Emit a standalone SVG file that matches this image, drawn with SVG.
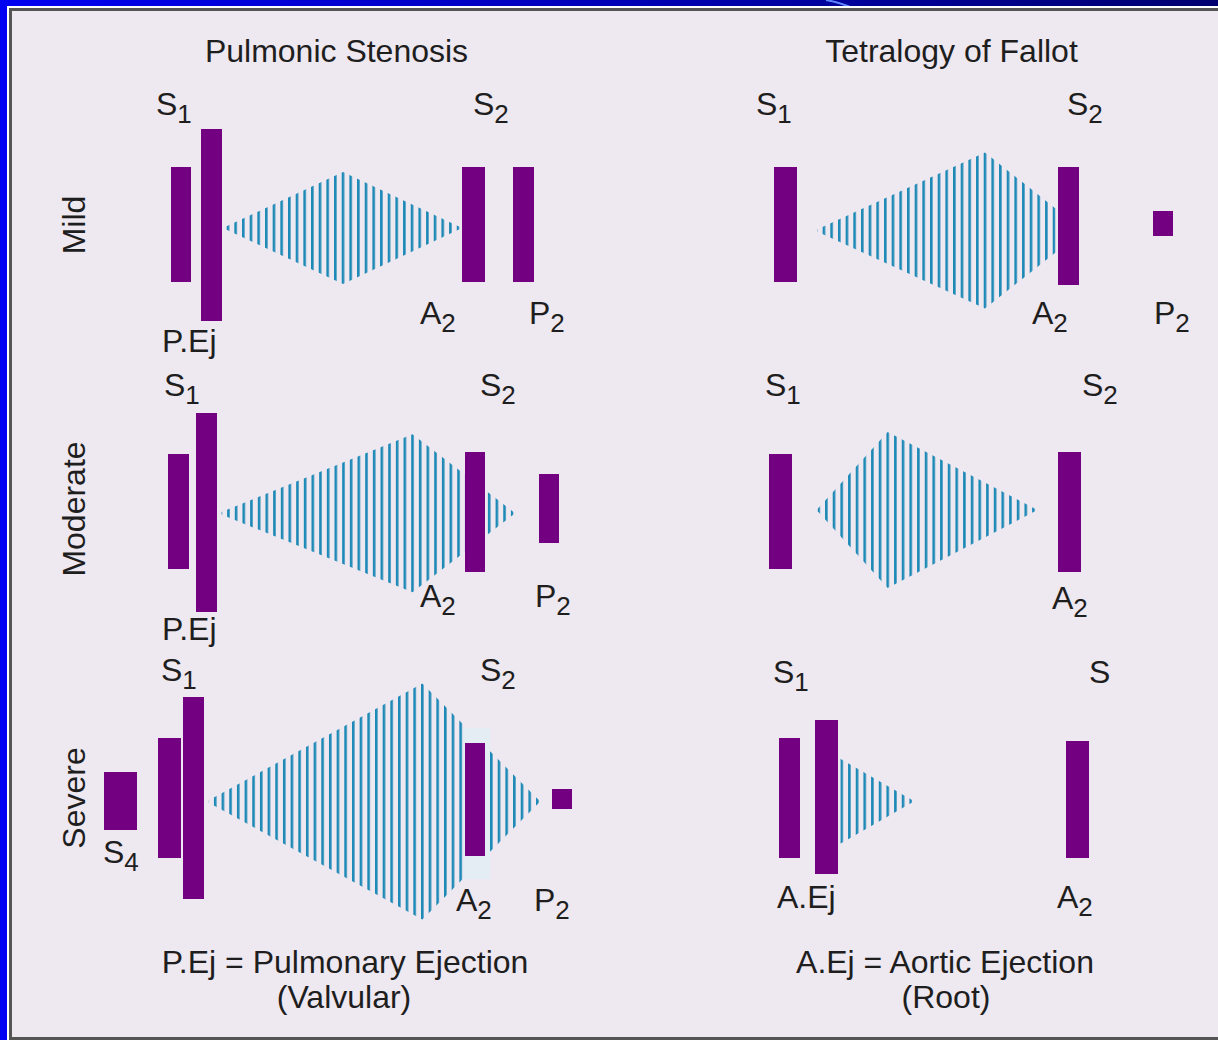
<svg xmlns="http://www.w3.org/2000/svg" width="1218" height="1040" viewBox="0 0 1218 1040">
<defs>
<linearGradient id="frameGrad" x1="0" y1="0" x2="1" y2="0">
<stop offset="0" stop-color="#0000f2"/>
<stop offset="0.5" stop-color="#0000b8"/>
<stop offset="1" stop-color="#000070"/>
</linearGradient>
<pattern id="stripes" x="-1.3" y="0" width="7.67" height="10" patternUnits="userSpaceOnUse">
<rect x="0" y="0" width="2.6" height="10" fill="#1d89b6"/>
</pattern>
<style>
.bar{fill:#730080;}
.hl{fill:#e3edf3;}
.mur{fill:url(#stripes);}
text{font-family:"Liberation Sans",Arial,sans-serif;font-size:32px;fill:#1e1e1e;}
.sub{font-size:26px;}
</style>
</defs>

<!-- frame -->
<rect x="0" y="0" width="1218" height="1040" fill="url(#frameGrad)"/>
<path d="M826,0 Q842,3 852,8" fill="none" stroke="#5b86ff" stroke-width="2"/>
<rect x="7" y="6" width="1215" height="1040" fill="#ffffff"/>
<rect x="10.5" y="9.5" width="1215" height="1029" fill="#eee8f0" stroke="#555555" stroke-width="3"/>

<!-- titles -->
<g id="titles">
<text x="336.5" y="62" text-anchor="middle">Pulmonic Stenosis</text>
<text x="951.5" y="62" text-anchor="middle">Tetralogy of Fallot</text>
</g>

<!-- row labels -->
<g id="row-labels">
<text transform="translate(85,225) rotate(-90)" text-anchor="middle">Mild</text>
<text transform="translate(85,509) rotate(-90)" text-anchor="middle">Moderate</text>
<text transform="translate(85,798) rotate(-90)" text-anchor="middle">Severe</text>
</g>

<!-- Mild PS -->
<g id="mild-ps">
<g transform="translate(343,0)"><polygon class="mur" points="-117.5,226.7 0,172 116.5,226.7 116.5,229.3 0,284 -117.5,229.3"/></g>
<rect class="bar" x="171" y="167" width="20" height="115"/>
<rect class="bar" x="201" y="129" width="21" height="192"/>
<rect class="bar" x="462" y="167" width="23" height="115"/>
<rect class="bar" x="513" y="167" width="21" height="115"/>
<text x="156" y="115">S<tspan class="sub" dy="8">1</tspan></text>
<text x="473" y="115">S<tspan class="sub" dy="8">2</tspan></text>
<text x="162" y="352">P.Ej</text>
<text x="420" y="324">A<tspan class="sub" dy="8">2</tspan></text>
<text x="529" y="324">P<tspan class="sub" dy="8">2</tspan></text>
</g>

<!-- Mild TOF -->
<g id="mild-tof">
<g transform="translate(985,0)"><polygon class="mur" points="-167.5,229.2 0,152.5 70.5,208.5 70.5,252.5 0,308.5 -167.5,231.8"/></g>
<rect class="bar" x="774" y="167" width="23" height="115"/>
<rect class="bar" x="1058" y="167" width="21" height="118"/>
<rect class="bar" x="1153" y="211" width="20" height="25"/>
<text x="756" y="115">S<tspan class="sub" dy="8">1</tspan></text>
<text x="1067" y="115">S<tspan class="sub" dy="8">2</tspan></text>
<text x="1032" y="324">A<tspan class="sub" dy="8">2</tspan></text>
<text x="1154" y="324">P<tspan class="sub" dy="8">2</tspan></text>
</g>

<!-- Moderate PS -->
<g id="moderate-ps">
<g transform="translate(412.5,0)"><polygon class="mur" points="-191,512 0,434.3 101,512 101,514.6 0,592.3 -191,514.6"/></g>
<rect class="bar" x="168" y="454" width="21" height="115"/>
<rect class="bar" x="196" y="413" width="21" height="199"/>
<rect class="bar" x="465" y="452" width="20" height="120"/>
<rect class="bar" x="539" y="474" width="20" height="69"/>
<text x="164" y="396">S<tspan class="sub" dy="8">1</tspan></text>
<text x="480" y="396">S<tspan class="sub" dy="8">2</tspan></text>
<text x="420" y="607">A<tspan class="sub" dy="8">2</tspan></text>
<text x="535" y="607">P<tspan class="sub" dy="8">2</tspan></text>
<text x="162" y="640">P.Ej</text>
</g>

<!-- Moderate TOF -->
<g id="moderate-tof">
<g transform="translate(887.7,0)"><polygon class="mur" points="-70,508.7 0,432 147.3,508.7 147.3,511.3 0,588 -70,511.3"/></g>
<rect class="bar" x="769" y="454" width="23" height="115"/>
<rect class="bar" x="1058" y="452" width="23" height="120"/>
<text x="765" y="396">S<tspan class="sub" dy="8">1</tspan></text>
<text x="1082" y="396">S<tspan class="sub" dy="8">2</tspan></text>
<text x="1052" y="609">A<tspan class="sub" dy="8">2</tspan></text>
</g>

<!-- Severe PS -->
<g id="severe-ps">
<g transform="translate(422.3,0)"><polygon class="mur" points="-213.5,800.2 0,683.5 116.7,800.2 116.7,802.8 0,919.5 -213.5,802.8"/></g>
<rect class="bar" x="104" y="772" width="33" height="58"/>
<rect class="bar" x="158" y="738" width="23" height="120"/>
<rect class="bar" x="183" y="697" width="21" height="202"/>
<rect class="hl" x="463" y="728" width="27" height="151"/>
<rect class="bar" x="465" y="743" width="20" height="113"/>
<rect class="bar" x="552" y="789" width="20" height="20"/>
<text x="161" y="681">S<tspan class="sub" dy="8">1</tspan></text>
<text x="480" y="681">S<tspan class="sub" dy="8">2</tspan></text>
<text x="103" y="863">S<tspan class="sub" dy="8">4</tspan></text>
<text x="456" y="911">A<tspan class="sub" dy="8">2</tspan></text>
<text x="534" y="911">P<tspan class="sub" dy="8">2</tspan></text>
</g>

<!-- Severe TOF -->
<g id="severe-tof">
<g transform="translate(841.7,0)"><polygon class="mur" points="-1.4,758.8 70.4,800 70.4,802.6 -1.4,843.8"/></g>
<rect class="bar" x="779" y="738" width="21" height="120"/>
<rect class="bar" x="815" y="720" width="23" height="154"/>
<rect class="bar" x="1066" y="741" width="23" height="117"/>
<text x="773" y="683">S<tspan class="sub" dy="8">1</tspan></text>
<text x="1089" y="683">S</text>
<text x="777" y="908">A.Ej</text>
<text x="1057" y="908">A<tspan class="sub" dy="8">2</tspan></text>
</g>

<!-- legends -->
<g id="legend-ps">
<text x="345" y="973" text-anchor="middle">P.Ej = Pulmonary Ejection</text>
<text x="344" y="1008" text-anchor="middle">(Valvular)</text>
</g>
<g id="legend-tof">
<text x="945" y="973" text-anchor="middle">A.Ej = Aortic Ejection</text>
<text x="946" y="1008" text-anchor="middle">(Root)</text>
</g>
<g id="connectors"/>
</svg>
